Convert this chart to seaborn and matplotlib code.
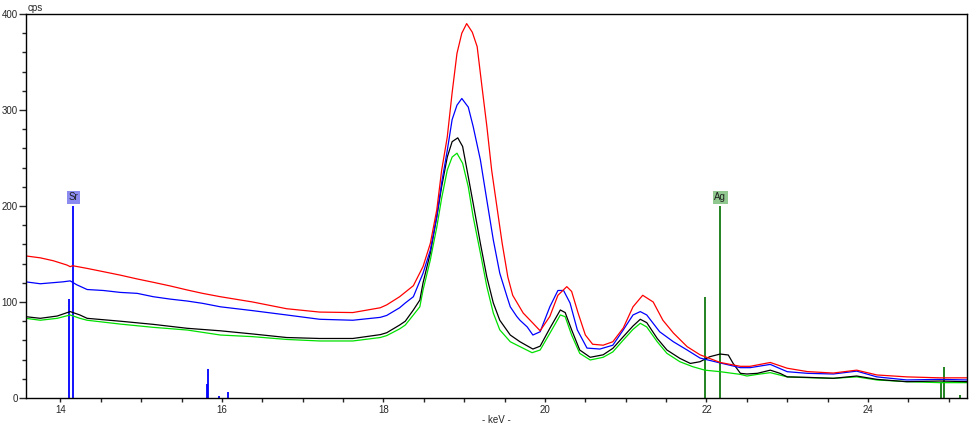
import numpy as np
import pandas as pd
import seaborn as sns
import matplotlib.pyplot as plt
from matplotlib.ticker import MultipleLocator

# spectra (keV, cps)
red_kev = [13.57, 13.75, 13.91, 14.08, 14.12, 14.15, 14.33, 14.53, 14.74, 14.95, 15.15, 15.36, 15.57, 15.76, 15.98,
           16.38, 16.80, 17.21, 17.62, 17.96, 18.04, 18.20, 18.37, 18.49, 18.58, 18.66, 18.72, 18.79, 18.85, 18.91,
           18.97, 19.03, 19.10, 19.16, 19.22, 19.28, 19.34, 19.41, 19.47, 19.54, 19.60, 19.73, 19.85, 19.94, 20.06,
           20.16, 20.27, 20.33, 20.41, 20.50, 20.59, 20.72, 20.84, 20.97, 21.09, 21.21, 21.34, 21.46, 21.59, 21.76,
           21.92, 22.17, 22.42, 22.54, 22.79, 23.00, 23.25, 23.57, 23.86, 24.11, 24.48, 24.89, 25.23]
red_cps = [148, 146, 143, 138.5, 136.8, 137.8, 135, 131.6, 128, 124, 120.5, 116.7, 112.5, 109, 105.5,
           100, 93, 89.5, 89, 94, 97, 105.5, 117, 137, 161, 196, 237, 272, 318, 359,
           380, 390, 381, 366, 324, 283, 237, 196, 161, 126, 107, 88.5, 78, 70, 85,
           107, 116, 111, 88.5, 65.6, 56, 55, 58.6, 73, 95, 107, 100, 81, 67.7, 53.5,
           45, 37, 33, 33, 37, 31, 27.5, 26, 29, 24, 22, 21, 21]

blue_kev = [13.57, 13.75, 13.96, 14.03, 14.12, 14.20, 14.33, 14.53, 14.74, 14.95, 15.15, 15.36, 15.57, 15.76, 15.98,
            16.38, 16.80, 17.21, 17.62, 17.96, 18.04, 18.20, 18.27, 18.37, 18.49, 18.58, 18.66, 18.72, 18.79, 18.85,
            18.91, 18.97, 19.05, 19.11, 19.20, 19.28, 19.36, 19.44, 19.53, 19.57, 19.65, 19.69, 19.78, 19.85, 19.94,
            20.06, 20.16, 20.23, 20.31, 20.40, 20.52, 20.68, 20.84, 20.97, 21.09, 21.18, 21.26, 21.42, 21.59, 21.76,
            21.92, 22.17, 22.42, 22.54, 22.79, 23.00, 23.25, 23.57, 23.86, 24.11, 24.48, 24.89, 25.23]
blue_cps = [121, 119, 120.5, 121, 122, 118, 113, 112, 110, 109, 105.5, 103, 101, 98.6, 95,
            91, 86.5, 82, 81, 84, 86, 94, 99, 105.5, 130, 154, 189, 224, 258, 290,
            305, 312, 303, 283, 248, 206, 164.6, 130, 105.5, 95, 85, 81, 74, 65.6, 69,
            95, 112, 112, 99, 71, 52, 51, 55, 71, 86.5, 90, 86.5, 69, 58.6, 50,
            41.6, 36.5, 31.6, 31.6, 35, 27.4, 25.7, 25, 28, 22, 18.8, 19.4, 18.8]

black_kev = [13.57, 13.75, 13.96, 14.12, 14.24, 14.33, 14.74, 15.15, 15.57, 15.98, 16.38, 16.80, 17.21, 17.62, 17.96,
             18.04, 18.20, 18.27, 18.37, 18.45, 18.49, 18.58, 18.66, 18.72, 18.79, 18.85, 18.92, 18.98, 19.05, 19.11,
             19.20, 19.28, 19.36, 19.44, 19.57, 19.69, 19.85, 19.94, 20.06, 20.19, 20.25, 20.33, 20.43, 20.56, 20.72,
             20.84, 20.97, 21.09, 21.18, 21.26, 21.39, 21.51, 21.67, 21.80, 21.92, 22.04, 22.17, 22.27, 22.33, 22.42,
             22.50, 22.63, 22.79, 22.91, 23.00, 23.25, 23.57, 23.86, 24.11, 24.48, 24.89, 25.23]
black_cps = [84.7, 83, 85.4, 90, 86.5, 83, 80, 76.7, 72.6, 70, 66.7, 63, 62, 62, 66,
             68, 76, 80, 91.7, 102, 120, 151, 189, 220, 251, 267, 271, 262, 230.5, 203,
             161, 126, 99, 81, 65.6, 58.6, 51, 54, 72.6, 91.7, 89, 71, 50, 42.4, 45,
             51.7, 63.9, 75, 82, 78.5, 62, 50, 41.3, 36, 37.8, 43, 45.8, 44.8, 36, 25.7,
             25, 25.7, 29, 25.7, 22, 21.5, 20.5, 22.9, 19.4, 17, 17.7, 17]

green_kev = [13.57, 13.75, 13.96, 14.12, 14.24, 14.33, 14.74, 15.15, 15.57, 15.98, 16.38, 16.80, 17.21, 17.62, 17.96,
             18.04, 18.20, 18.27, 18.37, 18.45, 18.49, 18.58, 18.66, 18.72, 18.79, 18.85, 18.91, 18.98, 19.05, 19.11,
             19.20, 19.28, 19.36, 19.44, 19.57, 19.69, 19.84, 19.94, 20.06, 20.19, 20.25, 20.33, 20.43, 20.56, 20.72,
             20.84, 20.97, 21.09, 21.18, 21.26, 21.39, 21.51, 21.67, 21.83, 21.98, 22.17, 22.42, 22.50, 22.63, 22.79,
             23.00, 23.25, 23.57, 23.86, 24.11, 24.48, 24.89, 25.23]
green_cps = [83, 81, 83, 86.5, 83, 81, 77, 73.6, 70.8, 65.6, 63.9, 61, 59.4, 59.4, 63,
             65, 72, 76, 86.5, 95, 112.5, 143.8, 178, 208, 237.5, 251, 255, 244.5, 220, 189,
             151, 116, 88.5, 71, 58.6, 53.5, 47.2, 50, 67.4, 86.5, 84.7, 65.6, 46.5, 39.6, 42.4,
             48, 60.4, 71.5, 77.8, 74, 58.6, 46.5, 37.8, 32.6, 29, 27.4, 24.6, 22.9, 24.6, 26.4,
             22, 21.2, 20.5, 22, 18.8, 17, 16, 16]

# element marker lines
sr_kev = [14.10, 14.16, 15.82, 15.83, 15.965, 16.08]
sr_cps = [103, 200, 15, 30, 2, 6]
ag_kev = [21.98, 22.17, 24.90, 24.94, 25.14]
ag_cps = [105, 200, 17, 32, 3]

series_colors = {"green": "#00e000", "black": "#000000", "blue": "#0000ff", "red": "#ff0000"}

frames = []
for name, kev, cps in [("green", green_kev, green_cps), ("black", black_kev, black_cps),
                       ("blue", blue_kev, blue_cps), ("red", red_kev, red_cps)]:
    frames.append(pd.DataFrame({"keV": kev, "cps": cps, "series": name}))
df = pd.concat(frames, ignore_index=True)

sns.set_style("ticks")
plt.rcParams['font.family'] = ['Liberation Sans', 'DejaVu Sans']

fig = plt.figure(figsize=(9.75, 4.25), dpi=100)
ax = fig.add_axes([26 / 975, 27 / 425, 941 / 975, 384 / 425])

ax.vlines(sr_kev, 0, sr_cps, color="#0000ff", lw=1.3)
ax.vlines(ag_kev, 0, ag_cps, color="#117a11", lw=1.3)

sns.lineplot(data=df, x="keV", y="cps", hue="series", palette=series_colors,
             hue_order=list(series_colors), lw=0.9, legend=False, ax=ax)

ax.text(sr_kev[1], 204, "Sr", ha="center", va="bottom", fontsize=7, color="#202020",
        bbox=dict(boxstyle="square,pad=0.15", fc="#8c8cf0", ec="none"))
ax.text(ag_kev[1], 204, "Ag", ha="center", va="bottom", fontsize=7, color="#202020",
        bbox=dict(boxstyle="square,pad=0.15", fc="#90c890", ec="none"))

ax.set_xlim(13.573, 25.226)
ax.set_ylim(0, 400)
ax.xaxis.set_major_locator(MultipleLocator(2))
ax.xaxis.set_minor_locator(MultipleLocator(0.5))
ax.yaxis.set_major_locator(MultipleLocator(100))
ax.yaxis.set_minor_locator(MultipleLocator(20))
ax.tick_params(axis="x", which="both", length=3, width=1, labelsize=7, pad=2)
ax.tick_params(axis="y", which="major", length=5, width=1, labelsize=7, pad=1)
ax.tick_params(axis="y", which="minor", length=3, width=1)
for s in ax.spines.values():
    s.set_linewidth(1)
    s.set_color("black")

ax.set_xlabel("- keV -", fontsize=7, labelpad=0)
ax.set_ylabel("")
ax.text(0.002, 1.003, "cps", transform=ax.transAxes, fontsize=7, va="bottom", ha="left")

fig.savefig("out.png", dpi=100)
